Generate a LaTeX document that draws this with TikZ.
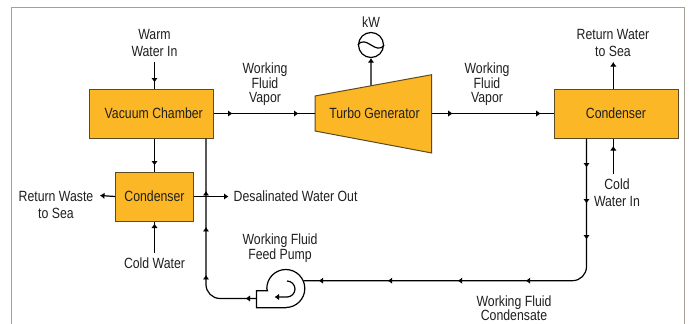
\documentclass[tikz,border=0pt]{standalone}
\usepackage{fontspec}
\setmainfont[FakeStretch=0.83]{Liberation Sans}
\usetikzlibrary{arrows.meta,positioning,calc,decorations.markings}
\definecolor{unitfill}{HTML}{FBB725}
\definecolor{unitedge}{HTML}{5C4A22}
\definecolor{framegray}{HTML}{A59F95}
\definecolor{inkgray}{HTML}{1F1F1F}

\begin{document}
\begin{tikzpicture}[x=1pt,y=-1pt,font=\fontsize{14.8}{17}\selectfont,text=inkgray,>={Latex[length=4.5pt,width=6.5pt]},
 unit/.style={draw=unitedge,line width=1pt,fill=unitfill,minimum height=49pt,align=center,inner sep=0pt},
 caption/.style={align=center,inner sep=5pt},
 flow/.style={line width=1.2pt,black,postaction={decorate}},
 tip/.style={decoration={markings,mark=at position #1 with {\arrow{>}}}}]
\useasboundingbox (0,0) rectangle (689,324);
\draw[framegray,line width=1pt] (11.5,324) -- (11.5,7.5) -- (684,7.5) -- (684,324);
% units
\node[unit,minimum width=123.5pt] (vacuum) at (151.25,113.5) {\hspace*{5pt}Vacuum Chamber};
\node[unit,minimum width=78pt,below=33pt of vacuum,xshift=3.25pt] (flash) {Condenser};
\node[unit,minimum width=124pt] (condenser) at (616,113.5) {Condenser};
\coordinate (turbinetl) at (315,96);
\coordinate (turbinetr) at (431.7,74.7);
\coordinate (turbinebr) at (431.7,153);
\coordinate (turbinebl) at (315,131);
\coordinate (shaft) at ($(turbinetl)!0.48!(turbinetr)$);
\node[circle,draw=black,line width=1.2pt,minimum size=25pt,inner sep=0pt] (generator) at (371,45) {};
\draw[line width=1.2pt] (generator.west) .. controls +(8,-11) and +(-8,11) .. (generator.east);
\draw[flow,->] (shaft) -- (generator.south);
\draw[unit] (turbinetl) -- (turbinetr) -- (turbinebr) -- (turbinebl) -- cycle;
\node[inner sep=0pt] (turbine) at (374.5,113.5) {Turbo Generator};
% pump casing
\node[circle,minimum size=38pt,inner sep=0pt] (pump) at (286,288.5) {};
\coordinate (pumpin) at (256.5,298.5);
\coordinate (pumpout) at (pump.24);
\draw[line width=1.2pt] (pump.south) -- (pump.south -| pumpin) -- ++(0,-17) -- ++(11,0) -- (pump.west) arc[start angle=180,end angle=-90,radius=19pt];
\draw[line width=1.2pt,->] (287,281) arc[start angle=90,end angle=-90,radius=8pt] -- (274.5,297);
% captions
\node[caption,above=27pt of vacuum.north,xshift=3.25pt] (warmin) {Warm\\Water In};
\node[caption] (vapora) at (265,84.5) {Working\\[-2.5pt]Fluid\\[-2.5pt]Vapor};
\node[caption] (vaporb) at (487,84.5) {Working\\[-2.5pt]Fluid\\[-2.5pt]Vapor};
\node[caption,above=-1pt of generator] (power) {kW};
\node[caption] (returnsea) at (613,42.5) {Return Water\\to Sea};
\node[caption] (wastesea) at (56,204.5) {Return Waste\\to Sea};
\coordinate[right=34.5pt of flash] (desalout);
\node[caption,right=0pt of desalout] (desal) {Desalinated Water Out};
\node[caption,below=31pt of flash] (coldwater) {Cold Water};
\node[caption] (feedpump) at (280,248) {Working Fluid\\[-2.5pt]Feed Pump};
\node[caption] (coldin) at (617,192.5) {Cold\\Water In};
\node[caption] (condensate) at (514,308) {Working Fluid\\[-2.5pt]Condensate};
\coordinate (coldend) at (613.3,174);
\coordinate (wasteout) at (100,195.5);
\coordinate (returnend) at (613.3,62);
% connectors
\draw[flow,tip=21pt] (warmin.south) -- (warmin.south |- vacuum.north);
\draw[flow,tip=19pt,tip=85pt] (vacuum.east) -- (vacuum.east -| turbinetl);
\draw[flow,tip=21pt,tip=109pt] (vacuum.east -| turbinetr) -- (condenser.west);
\draw[flow,tip=27pt] (flash.north |- vacuum.south) -- (flash.north);
\draw[flow,->] (flash.west) -- (wasteout);
\draw[flow,tip=29pt] (coldwater.north) -- (flash.south);
\draw[flow,->] (condenser.north -| returnend) -- (returnend);
\draw[flow,tip=28pt] (coldend) -- (coldend |- condenser.south);
\draw[flow,rounded corners=14pt,tip=29pt,tip=65pt,tip=101pt,tip=197pt,tip=265pt,tip=335pt,tip=404pt] ($(condenser.south west)+(33,0)$) |- (pumpout);
\draw[flow,rounded corners=14pt,tip=11pt,tip=68pt,tip=116pt,tip=152pt] (pumpin) -| ($(vacuum.south east)+(-7.5,0)$);
\draw[flow,->] (flash.east) -- (desalout);
\end{tikzpicture}
\end{document}
